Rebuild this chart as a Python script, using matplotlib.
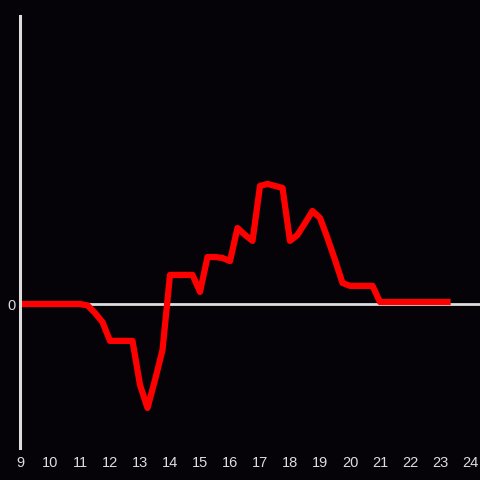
import matplotlib
matplotlib.use("Agg")
import matplotlib.pyplot as plt

# quarter-hour readings from 9:00 to 23:15
hours = [9.0, 9.25, 9.5, 9.75, 10.0, 10.25, 10.5, 10.75,
         11.0, 11.25, 11.5, 11.75, 12.0, 12.25, 12.5, 12.75,
         13.0, 13.25, 13.5, 13.75, 14.0, 14.25, 14.5, 14.75,
         15.0, 15.25, 15.5, 15.75, 16.0, 16.25, 16.5, 16.75,
         17.0, 17.25, 17.5, 17.75, 18.0, 18.25, 18.5, 18.75,
         19.0, 19.25, 19.5, 19.75, 20.0, 20.25, 20.5, 20.75,
         21.0, 21.25, 21.5, 21.75, 22.0, 22.25, 22.5, 22.75,
         23.0, 23.25]
values = [0, 0, 0, 0, 0, 0, 0, 0,
          0, -0.5, -3.1, -6.3, -12.8, -12.8, -12.8, -12.8,
          -28.1, -36.1, -26.4, -16.0, 10.1, 10.1, 10.1, 10.1,
          4.2, 16.3, 16.3, 16.0, 14.9, 26.4, 24.0, 21.9,
          41.0, 41.7, 41.0, 40.3, 21.9, 24.0, 28.1, 32.3,
          29.9, 22.9, 15.3, 7.3, 6.3, 6.3, 6.3, 6.3,
          0.7, 0.7, 0.7, 0.7, 0.7, 0.7, 0.7, 0.7,
          0.7, 0.7]
xticks = list(range(9, 25))

bg = '#050308'
fg = '#dddddd'

fig = plt.figure(figsize=(4.8, 4.8), dpi=100, facecolor=bg)
ax = fig.add_axes([20 / 480, 32 / 480, 460 / 480, 432 / 480])
ax.set_facecolor(bg)

ax.axhline(0, color=fg, lw=2, zorder=1)
ax.plot(hours, values, color='#ff0000', lw=4.5, zorder=2)

ax.set_xlim(9, 24.333)
ax.set_ylim(-50, 100)

for s in ['top', 'right', 'bottom']:
    ax.spines[s].set_visible(False)
ax.spines['left'].set_color(fg)
ax.spines['left'].set_linewidth(2.2)

ax.set_xticks(xticks)
ax.set_xticklabels([str(h) for h in xticks])
ax.set_yticks([0])
ax.set_yticklabels(['0'])
ax.tick_params(length=0, colors=fg, labelsize=10.5)
ax.tick_params(axis='x', pad=6)
ax.tick_params(axis='y', pad=3)
for lbl in ax.get_xticklabels() + ax.get_yticklabels():
    lbl.set_family('Liberation Sans')

plt.savefig("out.png", facecolor=bg)
